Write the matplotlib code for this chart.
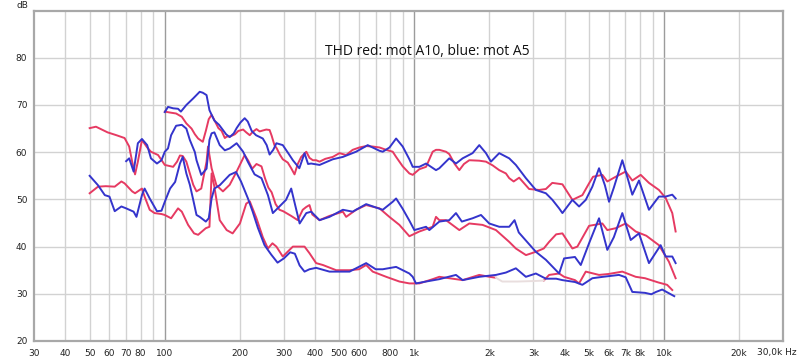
import matplotlib
matplotlib.use('Agg')
import matplotlib.pyplot as plt

# THD curves, frequency (Hz) and level (dB)
red_hi_f = [100, 105, 111, 117, 122, 128, 132, 136, 142, 146, 150, 154, 158, 164, 169, 174, 177, 184, 191, 197,
            206, 212, 219, 225, 233, 240, 247, 255, 263, 268, 275, 281, 289, 297, 311, 321, 331, 341, 352, 369,
            380, 392, 404, 417, 440, 471, 501, 533, 566, 602, 641, 681, 725, 771, 819, 845, 898, 955, 985, 1047,
            1114, 1184, 1221, 1259, 1339, 1380, 1451, 1514, 1580, 1660, 1820, 1936, 2060, 2188, 2327, 2399, 2500, 2630, 2884, 3162,
            3365, 3570, 3920, 4297, 4712, 5012, 5200, 5665, 5932, 6411, 7029, 7470, 8070, 8710, 9550, 10160, 10800, 11140]
red_hi_db = [68.6, 68.4, 68.2, 67.5, 66.1, 65.0, 63.8, 62.9, 62.2, 64.5, 67.0, 67.9, 66.8, 65.1, 64.5, 63.0, 63.3, 63.4, 63.8, 64.5,
             64.8, 64.2, 63.6, 64.3, 64.9, 64.4, 64.6, 64.8, 64.7, 63.5, 61.5, 60.8, 59.5, 58.5, 57.8, 56.6, 55.3, 57.5, 59.0, 60.1,
             58.8, 58.3, 58.3, 58.0, 58.6, 59.0, 59.8, 59.4, 60.5, 61.0, 61.3, 61.2, 61.0, 60.5, 60.1, 59.0, 57.0, 55.5, 55.2, 56.4,
             56.9, 60.1, 60.5, 60.5, 60.1, 59.6, 57.5, 56.2, 57.5, 58.3, 58.2, 58.0, 57.2, 56.2, 55.5, 54.5, 53.8, 54.6, 52.2, 52.0,
             52.2, 53.5, 53.2, 49.9, 50.9, 53.4, 54.8, 55.2, 53.8, 54.8, 55.9, 54.0, 55.2, 53.5, 52.0, 50.3, 47.1, 43.2]

red_mid_f = [50, 53, 59, 64, 69, 72, 74, 76, 78, 81, 85, 88, 94, 100, 108, 112, 115, 118, 122, 126,
             130, 134, 140, 147, 149, 154, 161, 171, 182, 194, 209, 216, 224, 233, 244, 252, 260, 268, 278, 288,
             298, 321, 341, 357, 369, 380, 390, 417, 457, 517, 533, 584, 641, 725, 794, 871, 955, 1047, 1184, 1221,
             1259, 1339, 1514, 1660, 1876, 2123, 2399, 2551, 2800, 3068, 3300, 3467, 3700, 3920, 4297, 4500, 5012, 5665, 5932, 6411,
             7029, 7707, 8500, 9550, 10470, 11140]
red_mid_db = [65.1, 65.4, 64.2, 63.6, 63.0, 61.2, 58.0, 55.3, 58.0, 62.6, 61.0, 60.1, 59.4, 57.3, 56.9, 58.0, 59.3, 59.2, 58.0, 55.5,
              53.1, 51.7, 52.3, 58.0, 61.2, 56.6, 53.0, 51.7, 53.1, 55.9, 59.4, 58.2, 56.5, 57.5, 57.0, 54.5, 52.5, 51.5, 49.0, 47.8,
              47.5, 46.5, 45.6, 47.8, 48.4, 48.8, 46.8, 45.6, 46.5, 47.4, 46.3, 47.8, 48.8, 48.1, 46.3, 44.6, 42.2, 43.2, 44.2, 46.3,
              45.6, 45.6, 43.5, 44.9, 44.6, 43.5, 41.0, 39.6, 38.2, 38.9, 39.6, 41.0, 42.6, 42.8, 39.6, 40.0, 44.4, 44.9, 43.5, 43.9,
              44.9, 43.2, 42.3, 40.3, 36.8, 33.3]

red_lo_f = [50, 54, 58, 63, 67, 69, 74, 76, 81, 83, 87, 91, 97, 100, 106, 113, 117, 124, 131, 136,
            146, 151, 154, 158, 166, 177, 187, 200, 212, 219, 233, 247, 259, 270, 280, 297, 326, 363, 380, 404,
            430, 486, 550, 600, 641, 681, 771, 871, 955, 1047, 1184, 1259, 1380, 1561, 1820, 2000, 2123, 2250, 2600, 3000,
            3300, 3467, 3802, 3981, 4400, 4571, 4862, 5495, 6000, 6812, 7707, 8400, 9500, 10300, 10800]
red_lo_db = [51.3, 52.7, 52.8, 52.7, 53.8, 53.4, 51.7, 51.3, 52.3, 50.6, 47.8, 47.1, 46.9, 46.7, 46.0, 48.1, 47.4, 44.6, 42.8, 42.5,
             43.9, 44.2, 55.5, 52.7, 45.6, 43.5, 42.8, 44.9, 49.1, 49.6, 46.0, 42.0, 39.6, 40.7, 40.0, 37.9, 40.0, 40.0, 38.6, 36.5,
             36.1, 35.0, 35.0, 35.2, 36.1, 34.7, 33.6, 32.6, 32.2, 32.2, 33.1, 33.6, 33.3, 32.9, 34.0, 33.6, 33.4, 32.6, 32.6, 32.7,
             32.8, 34.0, 34.3, 33.6, 32.9, 32.2, 34.7, 34.0, 34.2, 34.7, 33.6, 33.3, 32.4, 31.9, 30.8]

blue_hi_f = [100, 103, 108, 113, 116, 122, 130, 138, 142, 147, 151, 158, 165, 171, 176, 182, 189, 194, 201, 209,
             215, 223, 232, 247, 256, 263, 272, 280, 297, 315, 326, 346, 363, 375, 386, 417, 471, 517, 584, 641,
             650, 725, 747, 795, 845, 898, 955, 985, 1047, 1114, 1221, 1259, 1380, 1468, 1561, 1711, 1820, 1936, 2027, 2188,
             2399, 2551, 2798, 3068, 3365, 3574, 3802, 3920, 4297, 4571, 4862, 5167, 5495, 5800, 6026, 6300, 6812, 7200, 7470, 7943,
             8710, 9550, 10160, 10800, 11140]
blue_hi_db = [68.5, 69.6, 69.3, 69.2, 68.6, 70.0, 71.4, 72.8, 72.6, 72.1, 68.9, 66.7, 65.8, 64.7, 63.8, 63.2, 64.0, 65.1, 66.3, 67.2,
              66.5, 64.5, 63.6, 62.9, 61.5, 59.5, 60.5, 61.9, 61.5, 59.5, 58.3, 56.6, 59.8, 57.5, 57.6, 57.3, 58.5, 59.0, 60.1, 61.3,
              61.5, 60.3, 60.1, 61.0, 62.9, 61.2, 58.5, 56.9, 56.9, 57.6, 56.2, 56.6, 58.7, 57.6, 58.7, 59.8, 61.5, 59.8, 58.0, 59.8,
              58.7, 57.3, 54.5, 52.0, 51.3, 49.9, 48.1, 47.1, 49.9, 48.5, 49.9, 52.7, 56.6, 53.0, 49.5, 52.5, 58.3, 54.0, 51.0, 54.0,
              47.8, 50.6, 50.6, 51.0, 50.2]

blue_mid_f = [70, 72, 75, 78, 81, 85, 88, 93, 97, 100, 103, 106, 111, 117, 122, 126, 132, 134, 140, 147,
              151, 154, 158, 166, 174, 182, 194, 206, 215, 229, 244, 259, 271, 288, 306, 321, 334, 347, 369, 386,
              417, 457, 517, 566, 641, 700, 747, 819, 845, 898, 955, 1000, 1114, 1148, 1259, 1380, 1468, 1550, 1711, 1849,
              1995, 2188, 2399, 2520, 2620, 2884, 3068, 3365, 3802, 3981, 4400, 4643, 5012, 5495, 5932, 6300, 6812, 7360, 7943, 8710,
              9701, 10160, 10800, 11140]
blue_mid_db = [58.1, 58.7, 55.9, 61.9, 62.8, 61.5, 58.7, 57.6, 58.3, 60.1, 60.8, 63.6, 65.6, 65.8, 65.0, 62.6, 60.0, 58.3, 55.2, 56.5,
               62.6, 64.0, 64.2, 61.5, 60.4, 60.8, 61.9, 60.1, 58.0, 55.3, 54.5, 50.9, 47.1, 48.5, 49.9, 52.3, 48.5, 44.9, 47.1, 47.4,
               45.6, 46.3, 47.8, 47.4, 49.0, 48.3, 47.8, 49.5, 50.2, 48.0, 45.5, 43.5, 44.2, 43.5, 45.3, 45.6, 47.1, 45.3, 46.0, 46.7,
               44.9, 44.2, 44.2, 45.6, 43.0, 40.5, 38.9, 37.2, 34.3, 37.5, 37.8, 36.1, 40.7, 46.0, 39.3, 42.0, 47.1, 41.4, 42.8, 36.5,
               40.3, 37.9, 37.9, 36.5]

blue_lo_f = [50, 54, 57.5, 60, 63, 67, 70, 75, 77, 81, 83, 87, 93, 97, 100, 105, 110, 115, 118, 122,
             126, 130, 134, 138, 146, 150, 154, 158, 166, 182, 193, 202, 215, 225, 236, 251, 267, 283, 300, 318,
             332, 347, 363, 380, 404, 457, 550, 641, 700, 747, 845, 955, 985, 1015, 1114, 1259, 1468, 1561, 1820, 2123,
             2327, 2551, 2798, 3068, 3365, 3700, 3920, 4400, 4712, 5167, 5700, 6607, 7029, 7470, 8400, 8900, 9300, 9840, 10400, 11000]
blue_lo_db = [55.0, 53.0, 50.9, 50.6, 47.5, 48.5, 48.1, 47.4, 46.3, 50.9, 52.3, 50.2, 47.5, 47.6, 49.5, 52.3, 53.7, 57.6, 59.0, 55.5,
              53.1, 49.9, 46.7, 46.3, 45.3, 46.0, 50.2, 52.3, 53.0, 55.2, 55.8, 53.8, 50.3, 47.4, 44.0, 40.3, 38.3, 36.6, 37.5, 38.8,
              38.5, 36.0, 34.7, 35.2, 35.5, 34.7, 34.7, 36.5, 35.2, 35.2, 35.7, 34.3, 33.6, 32.2, 32.6, 33.1, 34.0, 32.9, 33.6, 34.0,
              34.5, 35.4, 33.6, 34.3, 33.2, 33.2, 32.9, 32.5, 31.9, 33.3, 33.6, 34.0, 33.5, 30.4, 30.2, 29.9, 30.4, 30.9, 30.2, 29.5]

x_ticks = [30, 40, 50, 60, 70, 80, 100, 200, 300, 400, 500, 600, 800,
           1000, 2000, 3000, 4000, 5000, 6000, 7000, 8000, 10000, 20000, 30000]
x_labels = ['30', '40', '50', '60', '70', '80', '100', '200', '300', '400', '500', '600', '800',
            '1k', '2k', '3k', '4k', '5k', '6k', '7k', '8k', '10k', '20k', '']
last_label = '30,0k Hz'
y_ticks = [20, 30, 40, 50, 60, 70, 80]

RED = '#e63a62'
BLUE = '#3434cc'
PALE = '#e9dede'

fig = plt.figure(figsize=(8, 3.61), dpi=100)
ax = fig.add_axes([34.3 / 800, 20 / 361, (783 - 34.3) / 800, 330.4 / 361])
ax.set_xscale('log')
ax.set_xlim(30, 30000)
ax.set_ylim(20, 90)

# grid: every 10/100/1000 step, decades a bit darker
grid_x = [m * d for d in (10, 100, 1000, 10000) for m in range(1, 10)]
for g in grid_x:
    if 30 < g < 30000:
        dec = g in (100, 1000, 10000)
        ax.axvline(g, color='#9c9c9c' if dec else '#d2d2d2', lw=1.0, zorder=0)
for g in range(30, 90, 10):
    ax.axhline(g, color='#d2d2d2', lw=1.0, zorder=0)

ax.plot(red_hi_f, red_hi_db, color=RED, lw=1.4)
ax.plot(red_mid_f, red_mid_db, color=RED, lw=1.4)
# part of the lowest red trace is drawn very pale in the original
pale_lo, pale_hi = 2123, 3300
ax.plot(red_lo_f, [d if not (pale_lo < f < pale_hi) else float('nan') for f, d in zip(red_lo_f, red_lo_db)],
        color=RED, lw=1.4)
ax.plot([f for f in red_lo_f if pale_lo <= f <= pale_hi],
        [d for f, d in zip(red_lo_f, red_lo_db) if pale_lo <= f <= pale_hi], color=PALE, lw=1.4)
ax.plot(blue_hi_f, blue_hi_db, color=BLUE, lw=1.4)
ax.plot(blue_mid_f, blue_mid_db, color=BLUE, lw=1.4)
ax.plot(blue_lo_f, blue_lo_db, color=BLUE, lw=1.4)

ax.set_xticks(x_ticks)
ax.set_xticklabels(x_labels)
ax.set_xticks([], minor=True)
ax.set_yticks(y_ticks)
ax.tick_params(axis='both', length=0, labelsize=6.5, colors='#222222')
ax.tick_params(axis='x', pad=6)
ax.tick_params(axis='y', pad=5)
for s in ax.spines.values():
    s.set_color('#a8a8a8')
    s.set_linewidth(1.6)

ax.text(0.5245, 0.875, 'THD red: mot A10, blue: mot A5', transform=ax.transAxes,
        ha='center', va='center', fontsize=10, family='Open Sans', color='#111111')
fig.text(22 / 800, 1 - 6 / 361, 'dB', ha='center', va='center', fontsize=6.5, color='#222222')
fig.text(797 / 800, 1 - 353 / 361, last_label, ha='right', va='center', fontsize=6.5, color='#222222')

fig.savefig('out.png', dpi=100, facecolor='white')
